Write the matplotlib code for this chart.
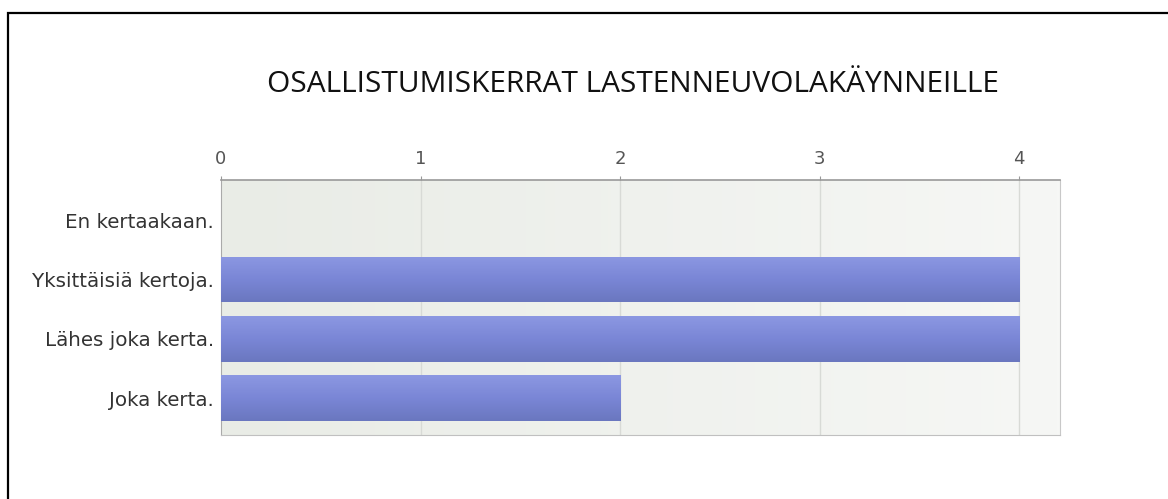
import matplotlib
matplotlib.use("Agg")
import matplotlib.pyplot as plt
import numpy as np
from matplotlib.patches import Rectangle
from matplotlib.colors import LinearSegmentedColormap

title = "OSALLISTUMISKERRAT LASTENNEUVOLAKÄYNNEILLE"
categories = ["En kertaakaan.", "Yksittäisiä kertoja.", "Lähes joka kerta.", "Joka kerta."]
values = [0, 4, 4, 2]
xticks = [0, 1, 2, 3, 4]

W, H = 1168, 499
fig = plt.figure(figsize=(W / 100, H / 100), dpi=100)
fig.patch.set_facecolor("white")

# outer black frame (extends beyond right/bottom)
fig.add_artist(Rectangle((8 / W, -0.1), 1.2, 1 - 13 / H + 0.1, transform=fig.transFigure,
                         fill=False, edgecolor="black", linewidth=1.6))

left, right, top, bottom = 221, 1060, 180, 435
ax = fig.add_axes([left / W, 1 - bottom / H, (right - left) / W, (bottom - top) / H])

XMAX = 4.205
YLO, YHI = len(categories) - 1 + 0.62, -0.68

# background gradient
bg = LinearSegmentedColormap.from_list("bg", ["#e9ece6", "#f6f7f5"])
grad = np.linspace(0, 1, 256).reshape(1, -1)
ax.imshow(grad, cmap=bg, aspect="auto", extent=[0, XMAX, YLO, YHI], zorder=0)

for t in xticks[1:]:
    ax.axvline(t, color="#d8dad6", linewidth=1, zorder=1)

bar_cmap = LinearSegmentedColormap.from_list("bar", ["#8c98e2", "#7a86d6", "#6a77bf"])
vgrad = np.linspace(0, 1, 256).reshape(-1, 1)
bh = 0.77
bars = ax.barh(range(len(categories)), values, height=bh, color="#7b87d6", zorder=2)
for b in bars:
    if b.get_width() <= 0:
        continue
    x0, y0 = b.get_x(), b.get_y()
    im = ax.imshow(vgrad, cmap=bar_cmap, aspect="auto",
                   extent=[x0, x0 + b.get_width(), y0 + b.get_height(), y0], zorder=3)
    im.set_clip_path(b)

ax.set_xlim(0, XMAX)
ax.set_ylim(YLO, YHI)

ax.xaxis.tick_top()
ax.set_xticks(xticks)
ax.set_xticklabels([str(t) for t in xticks])
ax.set_yticks(range(len(categories)))
ax.set_yticklabels(categories)
ax.tick_params(axis="x", length=3, color="#999999", labelcolor="#555555", labelsize=13, pad=6)
ax.tick_params(axis="y", length=0, labelcolor="#333333", labelsize=14.3, pad=5)
for lab in ax.get_xticklabels() + ax.get_yticklabels():
    lab.set_family("DejaVu Sans")

ax.spines["top"].set_color("#999999")
ax.spines["top"].set_linewidth(1.2)
ax.spines["left"].set_color("#aaaaaa")
ax.spines["right"].set_color("#c8c8c8")
ax.spines["bottom"].set_color("#c0c0c0")

fig.text(633 / W, 1 - 84 / H, title, ha="center", va="center", fontsize=21.5,
         family="Open Sans", color="#111111")

fig.savefig("out.png", dpi=100)
